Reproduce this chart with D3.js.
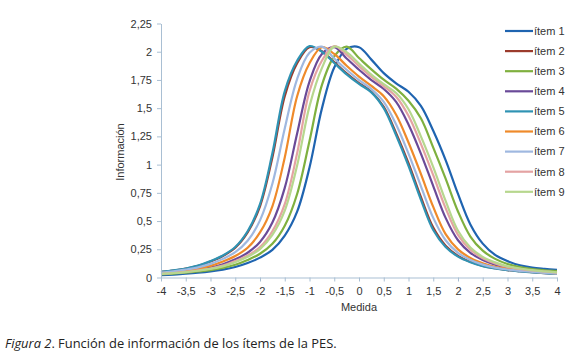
<!DOCTYPE html>
<html>
<head>
<meta charset="utf-8">
<script src="https://cdn.jsdelivr.net/npm/d3@7"></script>
<style>
  html, body { margin: 0; padding: 0; background: #fff; }
  svg { display: block; }
</style>
</head>
<body>
<svg id="chart" width="580" height="359"></svg>
<script>
// Measure grid (x values), shared by all items
const medida = [-4,-3.75,-3.5,-3.25,-3,-2.75,-2.5,-2.25,-2,-1.75,-1.5,-1.25,-1,-0.75,-0.5,-0.25,0,0.25,0.5,0.75,1,1.25,1.5,1.75,2,2.25,2.5,2.75,3,3.25,3.5,3.75,4];

const itemNames = ["ítem 1","ítem 2","ítem 3","ítem 4","ítem 5","ítem 6","ítem 7","ítem 8","ítem 9"];

const item1 = [0.02,0.026,0.033,0.042,0.054,0.07,0.093,0.128,0.176,0.245,0.371,0.583,0.974,1.496,1.86,2.025,2.04,1.93,1.81,1.72,1.645,1.52,1.3,1.04,0.74,0.47,0.3,0.2,0.145,0.108,0.088,0.077,0.068];
const item2 = [0.049,0.062,0.079,0.103,0.142,0.191,0.264,0.399,0.631,1.064,1.606,1.898,2.04,2.004,1.908,1.808,1.722,1.646,1.511,1.279,1.012,0.714,0.442,0.282,0.192,0.139,0.103,0.082,0.066,0.056,0.047,0.039,0.032];
const item3 = [0.027,0.034,0.042,0.053,0.066,0.085,0.113,0.155,0.21,0.298,0.458,0.74,1.21,1.704,1.96,2.045,1.944,1.844,1.752,1.673,1.565,1.41,1.15,0.875,0.585,0.363,0.238,0.165,0.12,0.092,0.074,0.064,0.057];
const item4 = [0.035,0.043,0.054,0.068,0.088,0.118,0.161,0.219,0.315,0.487,0.794,1.276,1.736,1.98,2.04,1.94,1.84,1.749,1.67,1.556,1.356,1.098,0.81,0.528,0.33,0.219,0.155,0.114,0.088,0.071,0.059,0.05,0.041];
const item5 = [0.05,0.063,0.08,0.105,0.145,0.195,0.27,0.41,0.65,1.1,1.65,1.92,2.05,2.0,1.9,1.8,1.715,1.64,1.5,1.26,0.99,0.69,0.42,0.27,0.185,0.135,0.1,0.08,0.065,0.055,0.046,0.038,0.031];
const item6 = [0.039,0.049,0.062,0.079,0.103,0.142,0.191,0.264,0.399,0.631,1.064,1.606,1.898,2.04,1.98,1.876,1.78,1.697,1.606,1.442,1.196,0.918,0.625,0.384,0.249,0.173,0.127,0.095,0.077,0.062,0.053,0.044,0.036];
const item7 = [0.044,0.055,0.07,0.09,0.121,0.165,0.225,0.326,0.506,0.83,1.32,1.758,1.99,2.045,1.94,1.84,1.749,1.67,1.556,1.356,1.098,0.81,0.528,0.33,0.219,0.155,0.114,0.088,0.071,0.059,0.05,0.041,0.034];
const item8 = [0.032,0.04,0.05,0.063,0.08,0.105,0.145,0.195,0.27,0.41,0.65,1.1,1.65,1.92,2.05,1.975,1.872,1.776,1.694,1.601,1.433,1.184,0.906,0.615,0.378,0.246,0.171,0.125,0.094,0.076,0.062,0.053,0.044];
const item9 = [0.031,0.038,0.048,0.06,0.076,0.099,0.135,0.183,0.252,0.377,0.592,0.992,1.518,1.855,2.045,1.996,1.896,1.797,1.712,1.634,1.49,1.25,0.978,0.679,0.414,0.266,0.183,0.134,0.099,0.08,0.065,0.055,0.046];

const xTicks = [-4,-3.5,-3,-2.5,-2,-1.5,-1,-0.5,0,0.5,1,1.5,2,2.5,3,3.5,4];
const yTicks = [0,0.25,0.5,0.75,1,1.25,1.5,1.75,2,2.25];

const itemColors = ["#1f64b0","#9b3b2c","#7fb03f","#6a4a98","#2f93b3","#ef8a2a","#9fb8e0","#e4a3a3","#b7d78e"];

const seriesValues = [item1,item2,item3,item4,item5,item6,item7,item8,item9];

const svg = d3.select("#chart");
svg.append("rect").attr("width",580).attr("height",359).attr("fill","#fff");

const x = d3.scaleLinear().domain([-4,4]).range([161,557]);
const y = d3.scaleLinear().domain([0,2.25]).range([277.5,23.5]);

const fmt = v => String(v).replace(".", ",");
const axisColor = "#a9bfd3";
const labelFont = "'Liberation Sans', Arial, sans-serif";

// Lines
const line = d3.line()
  .x((d,i) => x(medida[i]))
  .y(d => y(d))
  .curve(d3.curveCatmullRom.alpha(0.5));

svg.append("g").selectAll("path")
  .data(d3.range(seriesValues.length))
  .join("path")
  .attr("d", i => line(seriesValues[i]))
  .attr("fill","none")
  .attr("stroke", i => itemColors[i])
  .attr("stroke-width", 2.2)
  .attr("stroke-linejoin","round");

// Axes
const xAxis = d3.axisBottom(x).tickValues(xTicks).tickFormat(fmt).tickSize(4).tickSizeOuter(0);
const gx = svg.append("g").attr("transform", `translate(0,${y(0)})`).call(xAxis);
gx.select(".domain").attr("stroke", axisColor);
gx.selectAll(".tick line").attr("stroke", axisColor);
gx.selectAll(".tick text").attr("fill","#333").attr("font-family",labelFont).attr("font-size",11).attr("dy","0.95em");

const yAxis = d3.axisLeft(y).tickValues(yTicks).tickFormat(fmt).tickSize(4).tickSizeOuter(0);
const gy = svg.append("g").attr("transform", `translate(${x(-4)},0)`).call(yAxis);
gy.select(".domain").attr("stroke", axisColor);
gy.selectAll(".tick line").attr("stroke", axisColor);
gy.selectAll(".tick text").attr("fill","#333").attr("font-family",labelFont).attr("font-size",11).attr("x",-9);

// Axis titles
svg.append("text")
  .attr("transform","translate(124,152) rotate(-90)")
  .attr("text-anchor","middle")
  .attr("font-family",labelFont).attr("font-size",11).attr("fill","#333")
  .text("Información");
svg.append("text")
  .attr("x",359).attr("y",311)
  .attr("text-anchor","middle")
  .attr("font-family",labelFont).attr("font-size",11).attr("fill","#333")
  .text("Medida");

// Legend
const legend = svg.append("g");
itemNames.forEach((name,i) => {
  const ly = 31 + i*20.1;
  legend.append("line").attr("x1",505).attr("x2",533).attr("y1",ly).attr("y2",ly)
    .attr("stroke", itemColors[i]).attr("stroke-width",2.2);
  legend.append("text").attr("x",534).attr("y",ly).attr("dy","0.35em")
    .attr("font-family",labelFont).attr("font-size",11).attr("fill","#333")
    .text(name);
});

// Caption
const cap = svg.append("text").attr("x",5).attr("y",348)
  .attr("font-family","'Open Sans', 'Noto Sans', sans-serif").attr("font-size",12.9).attr("fill","#222");
cap.append("tspan").attr("font-style","italic").text("Figura 2");
cap.append("tspan").text(". Función de información de los ítems de la PES.");
</script>
</body>
</html>
